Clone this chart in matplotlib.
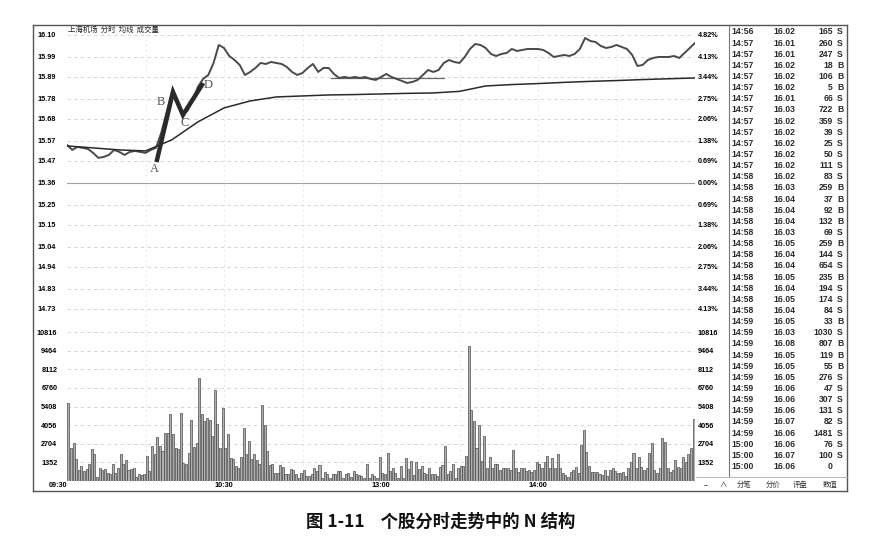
import matplotlib
matplotlib.use('Agg')
import matplotlib.pyplot as plt
from matplotlib.lines import Line2D
import numpy as np

plt.rcParams['font.family'] = ['Liberation Sans', 'Noto Sans CJK SC', 'DejaVu Sans']
CJK = ['Noto Sans CJK SC', 'DejaVu Sans']

# ---- 数据 ----
pre_close = 15.36
price_ticks = [16.10, 15.99, 15.89, 15.78, 15.68, 15.57, 15.47, 15.36,
               15.25, 15.15, 15.04, 14.94, 14.83, 14.73]
price_labels = ['16.10', '15.99', '15.89', '15.78', '15.68', '15.57', '15.47', '15.36',
                '15.25', '15.15', '15.04', '14.94', '14.83', '14.73']
pct_labels = ['4.82%', '4.13%', '3.44%', '2.75%', '2.06%', '1.38%', '0.69%', '0.00%',
              '0.69%', '1.38%', '2.06%', '2.75%', '3.44%', '4.13%']
vol_ticks = [10816, 9464, 8112, 6760, 5408, 4056, 2704, 1352]
vol_labels = ['10816', '9464', '8112', '6760', '5408', '4056', '2704', '1352']
time_ticks = [0, 60, 120, 180]
time_labels = ['09:30', '10:30', '13:00', '14:00']

# 分时价格, 每2分钟一个点 (0 = 09:30, 120 = 11:30/13:00, 240 = 15:00)
price_t = list(range(0, 241, 2))
price = [15.55, 15.525, 15.54, 15.535, 15.53, 15.51, 15.485, 15.49, 15.50, 15.525,
         15.515, 15.50, 15.515, 15.52, 15.515, 15.51, 15.525, 15.535, 15.61, 15.71,
         15.81, 15.76, 15.70, 15.72, 15.77, 15.84, 15.88, 15.90, 15.96, 16.05,
         16.035, 15.995, 15.975, 15.95, 15.90, 15.915, 15.935, 15.96, 15.955, 15.965,
         15.96, 15.955, 15.94, 15.915, 15.90, 15.91, 15.935, 15.955, 15.915, 15.935,
         15.935, 15.905, 15.885, 15.89, 15.885, 15.89, 15.885, 15.89, 15.88, 15.875,
         15.89, 15.905, 15.89, 15.88, 15.87, 15.86, 15.865, 15.875, 15.90, 15.925,
         15.915, 15.925, 15.96, 15.975, 15.965, 15.96, 15.99, 16.03, 16.055, 16.05,
         16.035, 16.005, 15.995, 16.005, 16.01, 16.03, 16.02, 16.025, 16.03, 16.03,
         16.03, 16.025, 16.01, 15.99, 15.995, 16.0, 15.995, 16.005, 16.03, 16.085,
         16.07, 16.065, 16.045, 16.035, 16.04, 16.05, 16.04, 16.03, 16.00, 15.945,
         15.95, 15.975, 15.985, 15.99, 15.99, 15.99, 15.995, 15.985, 16.01, 16.035,
         16.06]

# 均价线, 每10分钟
avg_t = list(range(0, 241, 10))
avg_price = [15.545, 15.535, 15.525, 15.52, 15.575, 15.665, 15.735, 15.77, 15.79, 15.795,
             15.80, 15.802, 15.805, 15.808, 15.81, 15.818, 15.845, 15.852, 15.857, 15.863,
             15.868, 15.872, 15.877, 15.881, 15.885]

# 每分钟成交量
volume = [5690, 2420, 2780, 1570, 775, 1090, 725, 850, 1210, 2300,
          1985, 290, 970, 775, 850, 605, 485, 1210, 605, 970,
          1935, 1210, 1500, 775, 850, 970, 290, 530, 435, 530,
          1815, 725, 2540, 1935, 3190, 2540, 2180, 3510, 3510, 4840,
          3390, 2370, 2300, 4960, 1330, 1260, 2060, 4400, 2470, 2780,
          7500, 4840, 4360, 4600, 4400, 3270, 6580, 4160, 2370, 5280,
          2370, 3440, 1650, 1570, 1090, 970, 1740, 3870, 1935, 2900,
          1570, 1935, 1500, 1210, 5490, 4070, 2180, 1160, 1210, 605,
          605, 1140, 1015, 530, 530, 850, 775, 485, 240, 605,
          775, 365, 365, 530, 920, 725, 1160, 240, 680, 485,
          240, 530, 530, 725, 725, 240, 530, 605, 290, 725,
          530, 435, 365, 240, 1260, 240, 530, 365, 240, 1740,
          605, 485, 2060, 725, 970, 605, 240, 1090, 240, 1645,
          850, 1450, 435, 1400, 850, 1090, 605, 485, 970, 485,
          485, 365, 1015, 1160, 2540, 485, 725, 1210, 240, 970,
          1090, 1100, 1815, 9800, 5130, 4360, 2420, 4070, 1450, 3270,
          970, 1770, 970, 1210, 1210, 800, 920, 920, 920, 800,
          2250, 970, 680, 920, 970, 725, 800, 680, 800, 1355,
          1210, 920, 1400, 1815, 920, 1645, 970, 1935, 920, 555,
          435, 315, 680, 800, 1040, 555, 2610, 3700, 2130, 1110,
          680, 680, 680, 485, 435, 800, 390, 800, 920, 725,
          555, 555, 680, 390, 920, 1400, 2010, 920, 1770, 1040,
          800, 920, 2010, 2730, 800, 555, 920, 3100, 2800, 920,
          680, 800, 1525, 1040, 920, 1770, 1355, 1935, 2370, 4500]
vol_t = np.arange(len(volume)) + 0.5

# N结构标注
n_t = [34.4, 40.5, 44.3, 51.6]
n_p = [15.475, 15.815, 15.70, 15.85]
n_names = ['A', 'B', 'C', 'D']
flat_t = [101, 144]
flat_p = [15.885, 15.885]

# 分笔成交明细
tick_time = ['14:56', '14:57', '14:57', '14:57', '14:57', '14:57', '14:57', '14:57',
             '14:57', '14:57', '14:57', '14:57', '14:57', '14:58', '14:58', '14:58',
             '14:58', '14:58', '14:58', '14:58', '14:58', '14:58', '14:58', '14:58',
             '14:58', '14:58', '14:59', '14:59', '14:59', '14:59', '14:59', '14:59',
             '14:59', '14:59', '14:59', '14:59', '14:59', '15:00', '15:00', '15:00']
tick_price = ['16.02', '16.01', '16.01', '16.02', '16.02', '16.02', '16.01', '16.03',
              '16.02', '16.02', '16.02', '16.02', '16.02', '16.02', '16.03', '16.04',
              '16.04', '16.04', '16.03', '16.05', '16.04', '16.04', '16.05', '16.04',
              '16.05', '16.04', '16.05', '16.03', '16.08', '16.05', '16.05', '16.05',
              '16.06', '16.06', '16.06', '16.07', '16.06', '16.06', '16.07', '16.06']
tick_vol = ['165', '260', '247', '18', '106', '5', '66', '722', '359', '39', '25', '50',
            '111', '83', '259', '37', '92', '132', '69', '259', '144', '654', '235',
            '194', '174', '84', '33', '1030', '807', '119', '55', '276', '47', '307',
            '131', '82', '1481', '76', '100', '0']
tick_side = ['S', 'S', 'S', 'B', 'B', 'B', 'S', 'B', 'S', 'S', 'S', 'S', 'S', 'S', 'B',
             'B', 'B', 'B', 'S', 'B', 'S', 'S', 'B', 'S', 'S', 'S', 'B', 'S', 'B', 'B',
             'B', 'S', 'S', 'S', 'S', 'S', 'S', 'S', 'S', '']
tabs = ['−', '∧', '分笔', '分价', '评盘', '数值']
tab_x = [706, 723, 744, 773, 800, 830]

# ---- 画图 ----
W, H = 874, 548
fig = plt.figure(figsize=(W / 100, H / 100), dpi=100)
fig.patch.set_facecolor('white')


def fx(px):
    return px / W


def fy(py):
    return 1 - py / H


ax_p = fig.add_axes([fx(67), fy(331), fx(695) - fx(67), fy(27) - fy(331)])
ax_v = fig.add_axes([fx(67), fy(481), fx(695) - fx(67), fy(331) - fy(481)], sharex=ax_p)

grid_kw = dict(color='#cdcdcd', lw=0.6, ls=(0, (4, 4)))
vgrid_kw = dict(color='#e2e2e2', lw=0.6, ls=(0, (2, 4)))

# 价格区
ax_p.set_xlim(0, 240)
ax_p.set_ylim(14.619, 16.14)
for y in price_ticks:
    if y == pre_close:
        ax_p.axhline(y, color='#a0a0a0', lw=0.8, zorder=0)
    else:
        ax_p.axhline(y, zorder=0, **grid_kw)
for t in [30, 60, 90, 120, 150, 180, 210]:
    ax_p.axvline(t, zorder=0, **vgrid_kw)
    ax_v.axvline(t, zorder=0, **vgrid_kw)

ax_p.plot(price_t, price, color='#4a4a4a', lw=1.4, zorder=3)
ax_p.plot(avg_t, avg_price, color='#2a2a2a', lw=1.1, zorder=3)
ax_p.plot(flat_t, flat_p, color='#6a6a6a', lw=0.9, zorder=2)
ax_p.plot(n_t, n_p, color='#2a2a2a', lw=3.2, solid_joinstyle='miter', zorder=4)
name_off = [(-1.0, -0.045), (-4.6, -0.05), (0.6, -0.04), (2.4, 0.0)]
for t, p, s, (dt, dp) in zip(n_t, n_p, n_names, name_off):
    ax_p.text(t + dt, p + dp, s, family=['Liberation Serif', 'DejaVu Serif'],
              fontsize=9, color='#555555', ha='center', va='center', zorder=5)

ax_p.set_yticks(price_ticks, labels=price_labels)
ax_p.tick_params(axis='y', length=0, pad=8, labelsize=5.2)
ax_p.tick_params(axis='x', length=0, labelbottom=False)
for lab in ax_p.get_yticklabels():
    lab.set_fontweight('bold')
ax_p2 = ax_p.twinx()
ax_p2.set_ylim(ax_p.get_ylim())
ax_p2.set_yticks(price_ticks, labels=pct_labels)
ax_p2.tick_params(axis='y', length=0, pad=2, labelsize=5.2)
for lab in ax_p2.get_yticklabels():
    lab.set_fontweight('bold')

# 成交量区
ax_v.set_ylim(0, 10890)
for y in vol_ticks:
    ax_v.axhline(y, zorder=0, **grid_kw)
ax_v.bar(vol_t, volume, width=0.78, color='#b0b0b0', edgecolor='#3c3c3c',
         linewidth=0.45, zorder=2)
ax_v.set_yticks(vol_ticks, labels=vol_labels)
ax_v.tick_params(axis='y', length=0, pad=7, labelsize=5.2)
for lab in ax_v.get_yticklabels():
    lab.set_fontweight('bold')
ax_v2 = ax_v.twinx()
ax_v2.set_ylim(ax_v.get_ylim())
ax_v2.set_yticks(vol_ticks, labels=vol_labels)
ax_v2.tick_params(axis='y', length=0, pad=2, labelsize=5.2)
for lab in ax_v2.get_yticklabels():
    lab.set_fontweight('bold')
ax_v.set_xticks(time_ticks, labels=time_labels)
ax_v.tick_params(axis='x', length=0, pad=0.5, labelsize=5.2)
xl = ax_v.get_xticklabels()
xl[0].set_ha('right')
for lab in xl:
    lab.set_fontweight('bold')

for a in (ax_p, ax_p2, ax_v, ax_v2):
    for sp in a.spines.values():
        sp.set_visible(False)
    a.patch.set_alpha(0)

# 标题
fig.text(fx(68), fy(30), '上海机场  分时  均线  成交量', family=CJK, fontsize=5.3,
         va='center', ha='left', color='#222222')

# 外框和分隔线
frame = dict(color='#555555', lw=1.0, transform=fig.transFigure)
fig.add_artist(Line2D([fx(33), fx(847)], [fy(25), fy(25)], **frame))
fig.add_artist(Line2D([fx(33), fx(847)], [fy(491), fy(491)], **frame))
fig.add_artist(Line2D([fx(33), fx(33)], [fy(25), fy(491)], **frame))
fig.add_artist(Line2D([fx(847), fx(847)], [fy(25), fy(491)], **frame))
fig.add_artist(Line2D([fx(729), fx(729)], [fy(25), fy(476)], color='#777777', lw=0.8,
                      transform=fig.transFigure))
fig.add_artist(Line2D([fx(696), fx(847)], [fy(477), fy(477)], color='#aaaaaa', lw=0.6,
                      transform=fig.transFigure))

# 分笔表
for i in range(len(tick_time)):
    y = fy(32 + i * 11.14)
    kw = dict(fontsize=6.2, fontweight='bold', color='#2a2a2a', va='center')
    fig.text(fx(731), y, tick_time[i], ha='left', **kw)
    fig.text(fx(773), y, tick_price[i], ha='left', **kw)
    fig.text(fx(833), y, tick_vol[i], ha='right', **kw)
    fig.text(fx(837), y, tick_side[i], ha='left', **kw)

for s, x in zip(tabs, tab_x):
    fig.text(fx(x), fy(485), s, family=CJK, fontsize=5.3, ha='center', va='center',
             color='#333333')

# 图注
fig.text(fx(441), fy(522), '图 1-11    个股分时走势中的 N 结构', family=CJK,
         fontsize=12.5, fontweight='bold', ha='center', va='center', color='#111111')

fig.savefig('out.png', dpi=100)
